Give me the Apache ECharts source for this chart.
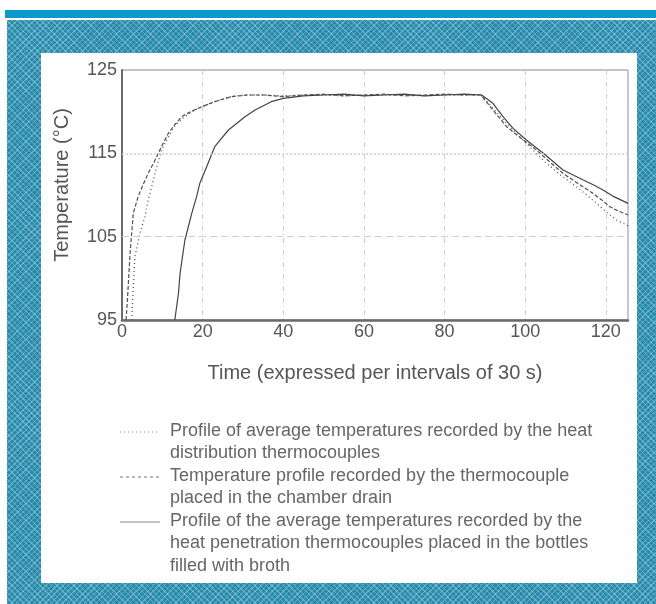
<!DOCTYPE html>
<html>
<head>
<meta charset="utf-8">
<script src="https://cdn.jsdelivr.net/npm/echarts@6/dist/echarts.min.js"></script>
<style>
  html, body { margin: 0; padding: 0; width: 656px; height: 604px; background: #ffffff; overflow: hidden; }
  #bar { position: absolute; left: 5px; top: 10px; width: 651px; height: 8px; background: #0a9bcc; }
  #frame { position: absolute; left: 7px; top: 20px; right: 0; bottom: 0;
    background-color: #2a8aab;
    background-image:
      repeating-linear-gradient(45deg, rgba(190,230,240,0.35) 0 1px, transparent 1px 4px),
      repeating-linear-gradient(-45deg, rgba(190,230,240,0.35) 0 1px, transparent 1px 4px);
  }
  #panel { position: absolute; left: 41px; top: 53px; width: 596px; height: 530px; background: #ffffff; }
  #chart { position: absolute; left: 0; top: 0; width: 656px; height: 604px; }
</style>
</head>
<body>
<div id="bar"></div>
<div id="frame"></div>
<div id="panel"></div>
<div id="chart"></div>
<script>
// ---- Data ----
var xTitle = 'Time (expressed per intervals of 30 s)';
var yTitle = 'Temperature (°C)';

var distName = 'Profile of average temperatures recorded by the heat distribution thermocouples';
var distX = [2.4, 3.2, 4.5, 5.7, 6.5, 8.2, 9.8, 11.5, 13, 15, 18, 20, 23, 27, 30, 35, 40, 45, 50, 55, 60, 65, 70, 75, 80, 85, 89, 92, 95, 100, 105.3, 109, 112.7, 115, 117.7, 120, 122.7, 125.5];
var distY = [95, 102.6, 105.5, 107.4, 109.4, 112.6, 115.4, 117, 118.2, 119.2, 120.2, 120.6, 121.2, 121.8, 122, 122, 121.9, 122, 122, 121.9, 122, 122, 122, 121.9, 122, 122, 122, 120.4, 118.8, 116.3, 113.8, 112.3, 111, 110.1, 109, 108, 107, 106.3];

var drainName = 'Temperature profile recorded by the thermocouple placed in the chamber drain';
var drainX = [1.0, 1.3, 2.0, 2.8, 4.0, 5.2, 6.5, 8.0, 9.0, 10.2, 11.5, 13.0, 14.8, 17.0, 19.8, 23.0, 27.2, 31, 35, 40, 45, 50, 55, 60, 65, 70, 75, 80, 85, 89, 91, 93, 95.4, 99, 102.8, 106, 109.4, 113, 116.8, 119, 121, 123, 125.5];
var drainY = [95, 97, 103, 107.8, 109.8, 111.2, 112.6, 114, 115, 116.2, 117.4, 118.4, 119.4, 120, 120.6, 121.2, 121.8, 122, 122, 121.8, 122, 122.1, 121.9, 122, 122.1, 121.9, 122, 122.1, 122, 122, 120.8, 119.6, 118.2, 116.8, 115.4, 114, 112.6, 111.4, 110.2, 109.4, 108.6, 108.1, 107.6];

var penName = 'Profile of the average temperatures recorded by the heat penetration thermocouples placed in the bottles filled with broth';
var penX = [13.1, 14, 14.4, 15.6, 17.3, 18.5, 19.3, 21, 23, 26.4, 30.5, 33, 34.6, 37, 40, 45, 50, 55, 60, 65, 70, 75, 80, 85, 89.2, 92, 94.5, 97, 100.3, 104.5, 109.4, 114.4, 117, 119.3, 122, 125.5];
var penY = [95, 98.2, 100.6, 104.6, 107.8, 109.8, 111.4, 113.4, 115.8, 117.8, 119.4, 120.2, 120.6, 121.2, 121.6, 121.9, 122, 122.1, 121.9, 122, 122.1, 121.9, 122, 122.1, 122, 121, 119.4, 118, 116.6, 115, 113, 111.8, 111.2, 110.6, 109.8, 109];

var xTicks = [0, 20, 40, 60, 80, 100, 120];
var yTicks = [95, 105, 115, 125];

var legendLines = [
  ['Profile of average temperatures recorded by the heat', 'distribution thermocouples'],
  ['Temperature profile recorded by the thermocouple', 'placed in the chamber drain'],
  ['Profile of the average temperatures recorded by the', 'heat penetration thermocouples placed in the bottles', 'filled with broth']
];

function pairs(xs, ys) { return xs.map(function (x, i) { return [x, ys[i]]; }); }

var chart = echarts.init(document.getElementById('chart'), null, { renderer: 'canvas' });
var font = 'Liberation Sans, Arial, Helvetica, sans-serif';
var ink = '#555555';

var sampleDash = [[1, 3], [3, 3], null];
var graphics = [];
var ly = 432;
legendLines.forEach(function (lines, i) {
  graphics.push({ type: 'line', shape: { x1: 120, y1: ly, x2: 160, y2: ly },
    style: { stroke: '#8a8a8a', lineWidth: 1.2, lineDash: sampleDash[i] } });
  lines.forEach(function (t, k) {
    graphics.push({ type: 'text', left: 170, top: ly - 10 + k * 22.5,
      style: { text: t, font: '18px ' + font, fill: '#666' } });
  });
  ly += lines.length * 22.5;
});

chart.setOption({
  backgroundColor: 'transparent',
  animation: false,
  grid: { left: 122, top: 70, width: 506, height: 250, show: true, borderColor: '#8a8a8a', borderWidth: 1, containLabel: false },
  xAxis: {
    type: 'value', min: 0, max: 125.5, interval: 20,
    name: xTitle, nameLocation: 'middle', nameGap: 43,
    nameTextStyle: { fontFamily: font, fontSize: 20, color: ink },
    axisLine: { show: true, lineStyle: { color: '#6a6a6a', width: 2.5 } },
    axisTick: { show: false },
    axisLabel: { margin: 3, fontFamily: font, fontSize: 18, color: ink,
      formatter: function (v) { return xTicks.indexOf(v) >= 0 ? String(v) : ''; } },
    splitLine: { show: true, lineStyle: { color: '#d6cbcb', width: 1, type: [5, 3, 1, 3] } }
  },
  yAxis: {
    type: 'value', min: 95, max: 125, interval: 10,
    name: yTitle, nameLocation: 'middle', nameGap: 50, nameRotate: 90,
    nameTextStyle: { fontFamily: font, fontSize: 20, color: ink, padding: [0, 0, 0, 20] },
    axisLine: { show: true, lineStyle: { color: '#6a6a6a', width: 2 } },
    axisTick: { show: false },
    axisLabel: { margin: 5, fontFamily: font, fontSize: 18, color: ink,
      formatter: function (v) { return yTicks.indexOf(v) >= 0 ? String(v) : ''; } },
    splitLine: { show: false }
  },
  graphic: graphics,
  series: [
    { name: distName, type: 'line', data: pairs(distX, distY), showSymbol: false,
      lineStyle: { color: '#555', width: 1.3, type: [1, 3] },
      markLine: { silent: true, symbol: 'none', label: { show: false },
        data: [ { yAxis: 115, lineStyle: { color: '#cfcfcf', type: [2, 2], width: 1.5 } },
                { yAxis: 105, lineStyle: { color: '#d6cbcb', type: [7, 4], width: 1.2 } } ] } },
    { name: drainName, type: 'line', data: pairs(drainX, drainY), showSymbol: false,
      lineStyle: { color: '#505050', width: 1.2, type: [4, 2] } },
    { name: penName, type: 'line', data: pairs(penX, penY), showSymbol: false,
      lineStyle: { color: '#444', width: 1.2, type: 'solid' } }
  ]
});
</script>
</body>
</html>
